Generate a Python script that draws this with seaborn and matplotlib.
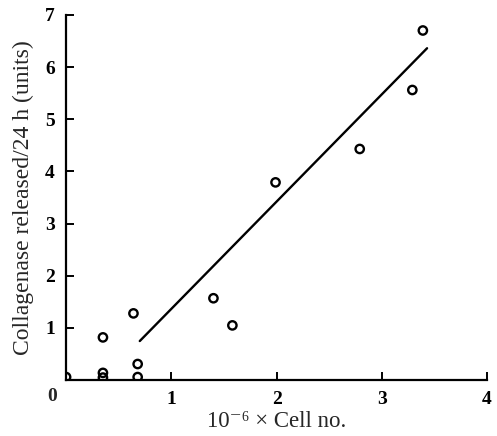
import matplotlib
matplotlib.use("Agg")
import matplotlib.pyplot as plt
import seaborn as sns
import pandas as pd

# Data
cell_no = [0.0, 0.35, 0.35, 0.35, 0.64, 0.68, 0.68, 1.40, 1.58, 1.99, 2.79, 3.29, 3.39]
collagenase = [0.06, 0.82, 0.14, 0.05, 1.28, 0.31, 0.06, 1.57, 1.05, 3.79, 4.43, 5.56, 6.70]
fit_x = [0.70, 3.43]
fit_y = [0.75, 6.36]
x_ticks = [0, 1, 2, 3, 4]
x_tick_labels = ["", "1", "2", "3", "4"]
y_ticks = [1, 2, 3, 4, 5, 6, 7]

sns.set_theme(style="ticks")
plt.rcParams["font.family"] = ["Liberation Serif", "DejaVu Serif"]

fig = plt.figure(figsize=(4.97, 4.36), dpi=100)
ax = fig.add_axes([0.133, 0.128, 0.847, 0.838])

df = pd.DataFrame({"x": cell_no, "y": collagenase})
sns.scatterplot(data=df, x="x", y="y", ax=ax, marker="o", s=36,
                facecolors="none", edgecolor="black", linewidth=1.7, legend=False)
sns.lineplot(x=fit_x, y=fit_y, ax=ax, color="black", linewidth=1.7)

ax.set_xlim(0, 4)
ax.set_ylim(0, 7)
ax.set_xticks(x_ticks)
ax.set_xticklabels(x_tick_labels)
ax.set_yticks(y_ticks)
ax.set_yticklabels([str(v) for v in y_ticks])
ax.tick_params(direction="in", length=6, width=1.4, labelsize=14, pad=8, colors="black")
for lab in ax.get_xticklabels() + ax.get_yticklabels():
    lab.set_fontweight("bold")
ax.text(-0.033, -0.045, "0", transform=ax.transAxes, ha="center", va="center",
        fontsize=14, fontweight="bold")

for s in ["top", "right"]:
    ax.spines[s].set_visible(False)
for s in ["left", "bottom"]:
    ax.spines[s].set_linewidth(1.6)
    ax.spines[s].set_color("black")

ax.set_xlabel("10\u207b\u2076 × Cell no.", fontsize=16.5, labelpad=2)
ax.set_ylabel("Collagenase released/24 h (units)", fontsize=17, labelpad=8)

fig.savefig("out.png", dpi=100)
